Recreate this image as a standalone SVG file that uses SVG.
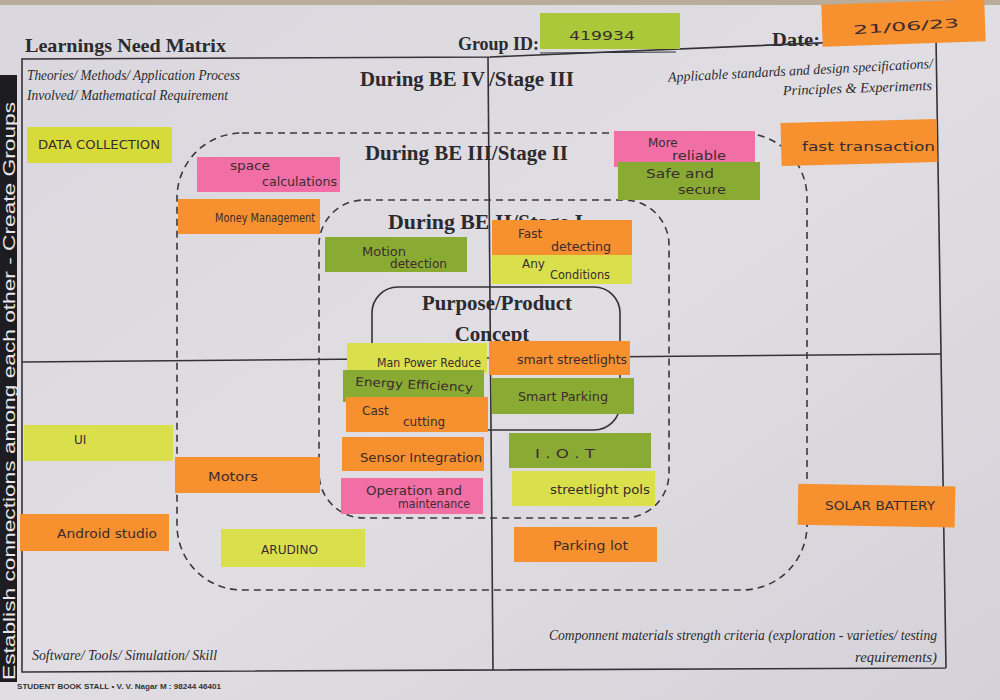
<svg xmlns="http://www.w3.org/2000/svg" width="1000" height="700" viewBox="0 0 1000 700">
<defs>
<style>
.serif{font-family:"Liberation Serif","Times New Roman",serif;fill:#2b2a2e}
.b{font-weight:bold}
.it{font-style:italic}
.hw{font-family:"DejaVu Sans","Liberation Sans",sans-serif;font-size:12px;fill:#3a2c30}
.y{fill:#d6db3a}
.l{fill:#d9e04c}
.g{fill:#8aab33}
.o{fill:#f7902e}
.p{fill:#f26fa5}
.frame{fill:none;stroke:#333238;stroke-width:1.6}
.dash{fill:none;stroke:#3a393e;stroke-width:1.6;stroke-dasharray:7 5}
</style>
<linearGradient id="paper" x1="0" y1="0" x2="1" y2="1">
<stop offset="0" stop-color="#d9d7dd"/>
<stop offset="0.5" stop-color="#e0dee3"/>
<stop offset="1" stop-color="#d4d2d8"/>
</linearGradient>
</defs>
<rect width="1000" height="700" fill="url(#paper)"/>
<rect x="0" y="0" width="1000" height="5" fill="#b9ad9a"/>

<!-- left strip -->
<g id="side-strip">
<rect x="0" y="75" width="17" height="607" fill="#1d1c20"/>
<text transform="translate(15,680) rotate(-90)" font-family="Liberation Sans,Arial,sans-serif" font-size="17" fill="#e8e6ea" textLength="578" lengthAdjust="spacingAndGlyphs">Establish connections among each other - Create Groups</text>
</g>

<!-- header -->
<g id="header">
<text class="serif b" x="25" y="52" font-size="19.5" textLength="201" lengthAdjust="spacingAndGlyphs">Learnings Need Matrix</text>
<text class="serif b" x="458" y="50" font-size="19" textLength="81" lengthAdjust="spacingAndGlyphs">Group ID:</text>
<line x1="540" y1="53" x2="676" y2="52" stroke="#333" stroke-width="1.2"/>
<text class="serif b" x="772" y="46" font-size="19" textLength="48" lengthAdjust="spacingAndGlyphs">Date:</text>
</g>

<!-- frame -->
<g id="frame">
<polyline class="frame" points="946,668 936,38 490,57 22,59 22,672 946,668"/>
<line class="frame" x1="488" y1="57" x2="493" y2="670"/>
<line class="frame" x1="22" y1="362" x2="941" y2="354"/>
</g>

<!-- stage boxes -->
<g id="stage-boxes">
<rect id="stage2" class="dash" x="177" y="133" width="630" height="457" rx="65" ry="65"/>
<rect id="stage1" class="dash" x="319" y="200" width="350" height="318" rx="45" ry="45"/>
<rect id="purpose" x="372" y="287" width="248" height="143" rx="26" ry="26" fill="none" stroke="#333238" stroke-width="1.6"/>
</g>

<!-- labels -->
<g id="labels">
<text class="serif it" x="27" y="80" font-size="14" textLength="213" lengthAdjust="spacingAndGlyphs">Theories/ Methods/ Application Process</text>
<text class="serif it" x="27" y="100" font-size="14" textLength="201" lengthAdjust="spacingAndGlyphs">Involved/ Mathematical Requirement</text>
<text class="serif b" x="360" y="86" font-size="22" textLength="125" lengthAdjust="spacingAndGlyphs">During BE IV</text>
<text class="serif b" x="489" y="86" font-size="22" textLength="85" lengthAdjust="spacingAndGlyphs">/Stage III</text>
<text class="serif it" transform="translate(933,68) rotate(-3)" text-anchor="end" font-size="14" textLength="265" lengthAdjust="spacingAndGlyphs">Applicable standards and design specifications/</text>
<text class="serif it" transform="translate(932,90) rotate(-2)" text-anchor="end" font-size="14" textLength="149" lengthAdjust="spacingAndGlyphs">Principles &amp; Experiments</text>
<text class="serif b" x="365" y="160" font-size="21" textLength="203" lengthAdjust="spacingAndGlyphs">During BE III/Stage II</text>
<text class="serif b" x="388" y="229" font-size="21" textLength="195" lengthAdjust="spacingAndGlyphs">During BE  II/Stage I</text>
<text class="serif b" x="497" y="310" font-size="21" text-anchor="middle" textLength="150" lengthAdjust="spacingAndGlyphs">Purpose/Product</text>
<text class="serif b" x="492" y="341" font-size="21" text-anchor="middle">Concept</text>
<text class="serif it" x="32" y="660" font-size="14" textLength="185" lengthAdjust="spacingAndGlyphs">Software/ Tools/ Simulation/ Skill</text>
<text class="serif it" x="937" y="640" font-size="14" text-anchor="end" textLength="388" lengthAdjust="spacingAndGlyphs">Componnent materials strength criteria (exploration - varieties/ testing</text>
<text class="serif it" x="937" y="662" font-size="14" text-anchor="end" textLength="82" lengthAdjust="spacingAndGlyphs">requirements)</text>
<text x="17" y="689" font-family="Liberation Sans,Arial,sans-serif" font-weight="bold" font-size="7" fill="#333" textLength="204" lengthAdjust="spacingAndGlyphs">STUDENT BOOK STALL • V. V. Nagar M : 98244 46401</text>
</g>

<!-- sticky notes -->
<g id="note-groupid"><rect x="540" y="13" width="140" height="36" fill="#a9c83a"/><text class="hw" x="569" y="40" font-size="18" textLength="66" lengthAdjust="spacingAndGlyphs">419934</text></g>
<g id="note-date"><rect class="o" x="822" y="2" width="163" height="42" transform="rotate(-2 903 23)"/><text class="hw" x="853" y="31" font-size="22" textLength="106" lengthAdjust="spacingAndGlyphs" transform="rotate(-4 900 25)">21/06/23</text></g>

<g id="note-data-collection"><rect class="y" x="27" y="127" width="145" height="36"/><text class="hw" x="38" y="149" font-size="12" textLength="122" lengthAdjust="spacingAndGlyphs">DATA   COLLECTION</text></g>
<g id="note-space-calc"><rect class="p" x="197" y="157" width="143" height="35"/><text class="hw" x="230" y="170" textLength="40" lengthAdjust="spacingAndGlyphs">space</text><text class="hw" x="262" y="186" textLength="75" lengthAdjust="spacingAndGlyphs">calculations</text></g>
<g id="note-money"><rect class="o" x="178" y="199" width="142" height="35"/><text class="hw" x="215" y="222" font-size="11" textLength="100" lengthAdjust="spacingAndGlyphs">Money Management</text></g>
<g id="note-reliable"><rect class="p" x="614" y="131" width="141" height="36"/><text class="hw" x="648" y="147">More</text><text class="hw" x="672" y="160" textLength="54" lengthAdjust="spacingAndGlyphs">reliable</text></g>
<g id="note-safe"><rect class="g" x="618" y="162" width="142" height="38"/><text class="hw" x="646" y="178" textLength="68" lengthAdjust="spacingAndGlyphs">Safe   and</text><text class="hw" x="678" y="194" textLength="48" lengthAdjust="spacingAndGlyphs">secure</text></g>
<g id="note-fast-transaction"><rect class="o" x="781" y="121" width="156" height="43" transform="rotate(-1.5 859 142)"/><text class="hw" x="802" y="151" font-size="14" textLength="133" lengthAdjust="spacingAndGlyphs">fast  transaction</text></g>

<g id="note-motion"><rect class="g" x="325" y="237" width="142" height="35"/><text class="hw" x="362" y="256" textLength="44" lengthAdjust="spacingAndGlyphs">Motion</text><text class="hw" x="390" y="268" textLength="57" lengthAdjust="spacingAndGlyphs">detection</text></g>
<g id="note-fast-detect"><rect class="o" x="492" y="220" width="140" height="36"/><text class="hw" x="518" y="238">Fast</text><text class="hw" x="551" y="251" textLength="60" lengthAdjust="spacingAndGlyphs">detecting</text></g>
<g id="note-any-cond"><rect class="l" x="492" y="255" width="140" height="29"/><text class="hw" x="522" y="268">Any</text><text class="hw" x="550" y="279" textLength="60" lengthAdjust="spacingAndGlyphs">Conditions</text></g>

<g id="note-manpower"><rect class="l" x="347" y="343" width="140" height="30"/><text class="hw" x="377" y="367" textLength="104" lengthAdjust="spacingAndGlyphs">Man Power Reduce</text></g>
<g id="note-smart-streetlights"><rect class="o" x="489" y="341" width="141" height="34"/><text class="hw" x="517" y="364" textLength="110" lengthAdjust="spacingAndGlyphs">smart  streetlights</text></g>
<g id="note-energy"><rect class="g" x="343" y="370" width="141" height="32"/><text class="hw" x="355" y="388" font-size="11" textLength="118" lengthAdjust="spacingAndGlyphs" transform="rotate(3 400 388)">Energy  Efficiency</text></g>
<g id="note-smart-parking"><rect class="g" x="492" y="378" width="142" height="36"/><text class="hw" x="518" y="401" textLength="90" lengthAdjust="spacingAndGlyphs">Smart  Parking</text></g>
<g id="note-cost"><rect class="o" x="346" y="397" width="142" height="35"/><text class="hw" x="362" y="415" font-size="13">Cast</text><text class="hw" x="403" y="426" font-size="13">cutting</text></g>
<g id="note-sensor"><rect class="o" x="342" y="437" width="142" height="34"/><text class="hw" x="360" y="462" font-size="11" textLength="122" lengthAdjust="spacingAndGlyphs">Sensor  Integration</text></g>
<g id="note-iot"><rect class="g" x="509" y="433" width="142" height="35"/><text class="hw" x="535" y="458" font-size="14" textLength="60" lengthAdjust="spacingAndGlyphs">I . O . T</text></g>
<g id="note-operation"><rect class="p" x="341" y="478" width="142" height="36"/><text class="hw" x="366" y="495" font-size="10.5" textLength="96" lengthAdjust="spacingAndGlyphs">Operation  and</text><text class="hw" x="398" y="508" font-size="10.5" textLength="72" lengthAdjust="spacingAndGlyphs">maintenance</text></g>
<g id="note-pols"><rect class="l" x="512" y="471" width="143" height="35"/><text class="hw" x="550" y="494" textLength="100" lengthAdjust="spacingAndGlyphs">streetlight  pols</text></g>

<g id="note-ui"><rect class="l" x="24" y="425" width="149" height="36"/><text class="hw" x="74" y="444" font-size="13">UI</text></g>
<g id="note-motors"><rect class="o" x="175" y="457" width="145" height="36"/><text class="hw" x="208" y="481" font-size="13" textLength="50" lengthAdjust="spacingAndGlyphs">Motors</text></g>
<g id="note-android"><rect class="o" x="20" y="514" width="149" height="37"/><text class="hw" x="57" y="538" textLength="100" lengthAdjust="spacingAndGlyphs">Android  studio</text></g>
<g id="note-arduino"><rect class="l" x="221" y="529" width="144" height="38"/><text class="hw" x="261" y="554" textLength="57" lengthAdjust="spacingAndGlyphs">ARUDINO</text></g>
<g id="note-parking-lot"><rect class="o" x="514" y="527" width="143" height="35"/><text class="hw" x="553" y="550" textLength="75" lengthAdjust="spacingAndGlyphs">Parking  lot</text></g>
<g id="note-solar"><rect class="o" x="798" y="485" width="157" height="41" transform="rotate(1 876 505)"/><text class="hw" x="825" y="510" font-size="11" textLength="110" lengthAdjust="spacingAndGlyphs">SOLAR   BATTERY</text></g>
</svg>
